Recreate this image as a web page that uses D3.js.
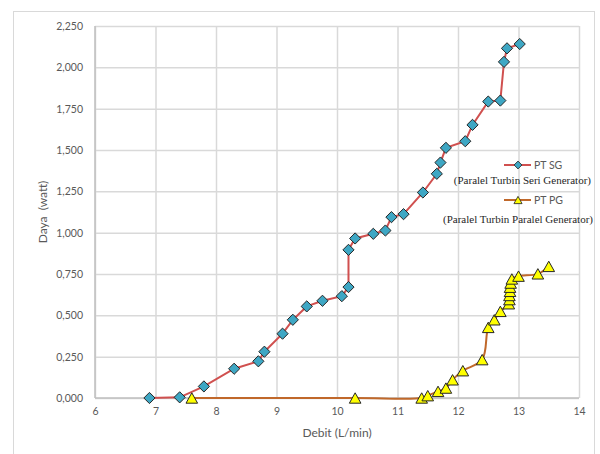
<!DOCTYPE html>
<html>
<head>
<meta charset="utf-8">
<script src="https://cdn.jsdelivr.net/npm/d3@7"></script>
<style>
  html, body { margin: 0; padding: 0; background: #fff; }
  svg { display: block; }
</style>
</head>
<body>
<svg id="chart" width="600" height="454"></svg>
<script>
// Debit (L/min) vs Daya (watt) for two turbine/generator configurations
const sgDebit = [6.9, 7.4, 7.8, 8.3, 8.7, 8.8, 9.1, 9.27, 9.5, 9.76, 10.08, 10.19, 10.19, 10.3, 10.6, 10.8, 10.9, 11.1, 11.42, 11.65, 11.71, 11.8, 12.12, 12.24, 12.5, 12.7, 12.76, 12.81, 13.02];
const sgDaya  = [0, 0.004, 0.07, 0.177, 0.222, 0.28, 0.389, 0.473, 0.554, 0.588, 0.616, 0.671, 0.896, 0.965, 0.993, 1.013, 1.094, 1.112, 1.243, 1.356, 1.424, 1.513, 1.553, 1.652, 1.793, 1.799, 2.033, 2.115, 2.141];

const pgDebit = [7.6, 10.3, 11.4, 11.5, 11.67, 11.8, 11.91, 12.08, 12.4, 12.5, 12.6, 12.7, 12.84, 12.85, 12.85, 12.86, 12.86, 12.87, 12.89, 13.0, 13.32, 13.5];
const pgDaya  = [0, 0, 0, 0.014, 0.04, 0.06, 0.11, 0.165, 0.232, 0.427, 0.473, 0.524, 0.57, 0.595, 0.62, 0.645, 0.67, 0.695, 0.72, 0.737, 0.751, 0.796];

const xTicks = [6, 7, 8, 9, 10, 11, 12, 13, 14];
const yTicks = [0, 0.25, 0.5, 0.75, 1, 1.25, 1.5, 1.75, 2, 2.25];

const seriesNames = ["PT SG", "PT PG"];
const seriesNotes = ["(Paralel Turbin Seri Generator)", "(Paralel Turbin Paralel Generator)"];

const svg = d3.select("#chart");
const plot = { left: 95, right: 579, top: 26, bottom: 398 };

const x = d3.scaleLinear().domain([6, 14]).range([plot.left, plot.right]);
const y = d3.scaleLinear().domain([0, 2.25]).range([plot.bottom, plot.top]);

const fmtY = v => d3.format(".3f")(v).replace(".", ",");
const axisFont = "Lato, 'Open Sans', sans-serif";
const gridColor = "#d9d9d9";
const textGray = "#595959";

// chart frame
svg.append("rect")
  .attr("x", 13.5).attr("y", 11.5)
  .attr("width", 581).attr("height", 470)
  .attr("fill", "none").attr("stroke", "#d9d9d9").attr("stroke-width", 1);

// vertical gridlines + x tick labels
const xAxis = svg.append("g")
  .attr("transform", `translate(0,${plot.bottom})`)
  .call(d3.axisBottom(x).tickValues(xTicks).tickSize(-(plot.bottom - plot.top)).tickPadding(10).tickFormat(d3.format("d")));
xAxis.select(".domain").remove();
xAxis.selectAll(".tick line").attr("stroke", gridColor).attr("stroke-width", 1.5);
xAxis.selectAll(".tick text").attr("fill", textGray).attr("font-family", axisFont).attr("font-size", 10.5);

// horizontal gridlines + y tick labels
const yAxis = svg.append("g")
  .attr("transform", `translate(${plot.left},0)`)
  .call(d3.axisLeft(y).tickValues(yTicks).tickSize(-(plot.right - plot.left)).tickPadding(12).tickFormat(fmtY));
yAxis.select(".domain").remove();
yAxis.selectAll(".tick line").attr("stroke", gridColor).attr("stroke-width", 1.5);
yAxis.selectAll(".tick text").attr("fill", textGray).attr("font-family", axisFont).attr("font-size", 10.5);

// axis lines
svg.append("line")
  .attr("x1", plot.left).attr("x2", plot.left)
  .attr("y1", plot.top).attr("y2", plot.bottom)
  .attr("stroke", "#bfbfbf").attr("stroke-width", 1.5);
svg.append("line")
  .attr("x1", plot.left).attr("x2", plot.right)
  .attr("y1", plot.bottom).attr("y2", plot.bottom)
  .attr("stroke", "#bfbfbf").attr("stroke-width", 1.5);

// axis titles
svg.append("text")
  .attr("x", (plot.left + plot.right) / 2).attr("y", 437)
  .attr("text-anchor", "middle")
  .attr("fill", textGray).attr("font-family", axisFont).attr("font-size", 12)
  .text("Debit (L/min)");
svg.append("text")
  .attr("transform", `translate(47,${(plot.top + plot.bottom) / 2}) rotate(-90)`)
  .attr("text-anchor", "middle")
  .attr("fill", textGray).attr("font-family", axisFont).attr("font-size", 12)
  .attr("xml:space", "preserve")
  .style("white-space", "pre")
  .text("Daya  (watt)");

// series
const sgPts = sgDebit.map((d, i) => [d, sgDaya[i]]);
const pgPts = pgDebit.map((d, i) => [d, pgDaya[i]]);

const sgColor = "#d0504f";
const pgColor = "#c0682a";
const diamondFill = "#3ea7c4";
const triFill = "#ffff00";
const markStroke = "#262626";

const lineLinear = d3.line().x(d => x(d[0])).y(d => y(d[1]));
const lineSmooth = d3.line().x(d => x(d[0])).y(d => y(d[1])).curve(d3.curveCatmullRom.alpha(0.5));

svg.append("path").attr("d", lineSmooth(pgPts))
  .attr("fill", "none").attr("stroke", pgColor).attr("stroke-width", 2);
svg.append("path").attr("d", lineLinear(sgPts))
  .attr("fill", "none").attr("stroke", sgColor).attr("stroke-width", 2);

const diamond = "M0,-5.6L5.6,0L0,5.6L-5.6,0Z";
const triangle = "M0,-5.2L5.8,5.2L-5.8,5.2Z";

svg.append("g").selectAll("path").data(sgPts).join("path")
  .attr("d", diamond)
  .attr("transform", d => `translate(${x(d[0])},${y(d[1])})`)
  .attr("fill", diamondFill).attr("stroke", markStroke).attr("stroke-width", 1);

svg.append("g").selectAll("path").data(pgPts).join("path")
  .attr("d", triangle)
  .attr("transform", d => `translate(${x(d[0])},${y(d[1])})`)
  .attr("fill", triFill).attr("stroke", markStroke).attr("stroke-width", 1);

// legend
const legend = svg.append("g");
const legendRows = [
  { name: seriesNames[0], note: seriesNotes[0], color: sgColor, mark: diamond, fill: diamondFill, y: 165, noteY: 184, noteX: 591 },
  { name: seriesNames[1], note: seriesNotes[1], color: pgColor, mark: triangle, fill: triFill, y: 200, noteY: 223, noteX: 593 }
];
legendRows.forEach(r => {
  legend.append("line")
    .attr("x1", 504).attr("x2", 531).attr("y1", r.y).attr("y2", r.y)
    .attr("stroke", r.color).attr("stroke-width", 2);
  legend.append("path")
    .attr("d", r.mark)
    .attr("transform", `translate(518,${r.y}) scale(0.7)`)
    .attr("fill", r.fill).attr("stroke", markStroke).attr("stroke-width", 1.2);
  legend.append("text")
    .attr("x", 534).attr("y", r.y + 3.8)
    .attr("fill", textGray).attr("font-family", axisFont).attr("font-size", 10.5)
    .text(r.name);
  legend.append("text")
    .attr("x", r.noteX).attr("y", r.noteY)
    .attr("text-anchor", "end")
    .attr("fill", "#1f1f1f").attr("font-family", "'Liberation Serif', serif").attr("font-size", 11)
    .text(r.note);
});
</script>
</body>
</html>
